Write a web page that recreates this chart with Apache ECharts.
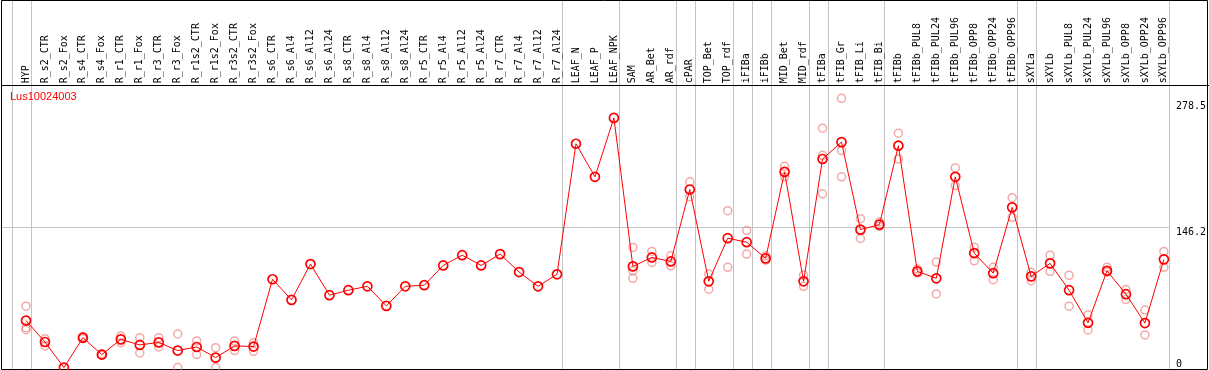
<!DOCTYPE html>
<html>
<head>
<meta charset="utf-8">
<script src="https://cdn.jsdelivr.net/npm/echarts@6/dist/echarts.min.js"></script>
<style>
html,body{margin:0;padding:0;background:#fff;}
#chart{width:1209px;height:370px;}
</style>
</head>
<body>
<div id="chart"></div>
<script>
const categories = ["HYP","R_s2_CTR","R_s2_Fox","R_s4_CTR","R_s4_Fox","R_r1_CTR","R_r1_Fox","R_r3_CTR","R_r3_Fox","R_r1s2_CTR","R_r1s2_Fox","R_r3s2_CTR","R_r3s2_Fox","R_s6_CTR","R_s6_Al4","R_s6_Al12","R_s6_Al24","R_s8_CTR","R_s8_Al4","R_s8_Al12","R_s8_Al24","R_r5_CTR","R_r5_Al4","R_r5_Al12","R_r5_Al24","R_r7_CTR","R_r7_Al4","R_r7_Al12","R_r7_Al24","LEAF_N","LEAF_P","LEAF_NPK","SAM","AR_Bet","AR_rdf","cPAR","TOP_Bet","TOP_rdf","iFIBa","iFIBb","MID_Bet","MID_rdf","tFIBa","tFIB_Gr","tFIB_Li","tFIB_Bi","tFIBb","tFIBb_PUL8","tFIBb_PUL24","tFIBb_PUL96","tFIBb_OPP8","tFIBb_OPP24","tFIBb_OPP96","sXYLa","sXYLb","sXYLb_PUL8","sXYLb_PUL24","sXYLb_PUL96","sXYLb_OPP8","sXYLb_OPP24","sXYLb_OPP96"];

const meanValues = [50.7,28.7,2.5,33.1,15.8,31.4,25.7,28.3,19.9,23.6,12.7,24.7,24.0,93.0,71.9,108.6,76.7,81.8,85.8,65.7,85.8,86.9,107.2,117.7,107.2,118.8,100.4,85.8,98.1,231.9,198.0,258.4,106.2,115.4,111.3,185.0,90.9,135.1,131.0,114.4,203.1,90.9,216.3,233.6,143.9,149.0,229.9,101.1,94.0,198.0,119.8,99.2,166.7,96.0,109.3,81.8,48.4,101.7,77.7,48.1,113.4];

const rep1 = [65.4,32.1,null,34.1,16.5,34.9,33.1,33.1,36.9,29.8,22.9,29.8,28.0,null,null,null,null,null,null,null,null,null,null,null,null,null,null,null,null,null,null,null,125.6,121.5,117.0,192.9,98.4,163.3,142.9,117.0,208.8,97.3,247.9,278.5,155.1,151.7,242.8,103.5,110.6,207.1,125.9,105.3,176.6,100.1,117.7,97.0,56.6,105.2,82.4,61.4,121.5];
const rep2 = [43.3,24.7,null,32.1,15.2,28.0,17.5,23.6,2.5,15.8,2.5,19.9,19.2,null,null,null,null,null,null,null,null,null,null,null,null,null,null,null,null,null,null,null,101.7,110.3,106.8,177.6,82.8,105.2,118.8,112.6,198.0,85.8,180.6,198.0,134.8,147.3,216.3,99.4,78.0,189.1,111.9,92.6,156.5,91.5,101.1,65.4,41.0,100.5,72.2,35.9,105.2];
const rep3 = [41.3,null,null,null,null,null,null,null,null,null,null,null,null,null,null,null,null,null,null,null,null,null,null,null,null,null,null,null,null,null,null,null,94.0,null,null,null,null,null,null,null,null,null,220.0,225.1,null,null,null,null,null,null,null,null,null,null,null,null,null,null,null,null,null];

const yTicks = [0, 146.2, 278.5];
const separatorsAfter = [-1, 0, 28, 31, 34, 35, 37, 38, 39, 41, 42, 45, 52, 53, 60];
const geneName = "Lus10024003";

const chart = echarts.init(document.getElementById('chart'), null, {renderer: 'canvas'});
const mono = "'DejaVu Sans Mono', 'Liberation Mono', monospace";
const pink = 'rgba(236,120,120,0.8)';

function repSeries(arr) {
  return {
    type: 'scatter',
    data: arr,
    symbol: 'circle',
    symbolSize: 8,
    z: 3,
    clip: false,
    silent: true,
    itemStyle: {color: 'rgba(0,0,0,0)', borderColor: pink, borderWidth: 1.5},
    emphasis: {disabled: true}
  };
}

const option = {
  animation: false,
  backgroundColor: '#fff',
  title: {
    text: geneName,
    left: 10, top: 91,
    padding: 0,
    textStyle: {color: '#ff0000', fontSize: 11, fontWeight: 'normal', fontFamily: "'Liberation Sans', Arial, sans-serif"}
  },
  grid: {left: 26, right: 43, top: 98.3, bottom: -1.5, containLabel: false},
  xAxis: {
    type: 'category',
    data: categories,
    position: 'top',
    boundaryGap: false,
    axisLine: {show: false},
    axisTick: {show: false},
    splitLine: {show: false},
    axisLabel: {
      interval: 0, rotate: 90, margin: 15,
      color: '#000', fontSize: 10, fontFamily: mono
    }
  },
  yAxis: {
    type: 'value',
    min: yTicks[0], max: yTicks[2], interval: yTicks[1],
    position: 'right',
    axisLine: {show: false},
    axisTick: {show: false},
    splitLine: {show: false},
    axisLabel: {
      margin: 12,
      showMinLabel: true, showMaxLabel: true,
      formatter: function (v) {
        if (v === yTicks[0]) return '{b|' + v + '}';
        if (v >= yTicks[2] - 0.01) return '{t|' + yTicks[2] + '}';
        return '{m|' + yTicks[1] + '}';
      },
      rich: {
        b: {color: '#000', fontSize: 10, fontFamily: mono, padding: [0, 0, 12, 0]},
        m: {color: '#000', fontSize: 10, fontFamily: mono, padding: [11, 0, 0, 0]},
        t: {color: '#000', fontSize: 10, fontFamily: mono, padding: [16, 0, 0, 0]}
      }
    }
  },
  series: [
    repSeries(rep1),
    repSeries(rep2),
    repSeries(rep3),
    {
      type: 'line',
      data: meanValues,
      z: 5,
      clip: false,
      symbol: 'circle',
      symbolSize: 9,
      showAllSymbol: true,
      lineStyle: {color: '#ff0000', width: 1},
      itemStyle: {color: 'rgba(0,0,0,0)', borderColor: '#ff0000', borderWidth: 1.7},
      emphasis: {disabled: true}
    }
  ]
};

chart.setOption(option);

// decorations positioned through the library's scales
const x0 = chart.convertToPixel({xAxisIndex: 0}, 0);
const x1 = chart.convertToPixel({xAxisIndex: 0}, 1);
const step = x1 - x0;
const yGrid = chart.convertToPixel({yAxisIndex: 0}, yTicks[1]);
const lastSepX = Math.round(x0 + separatorsAfter[separatorsAfter.length - 1] * step + 5) + 0.5;

const elements = [];
separatorsAfter.forEach(function (k) {
  const x = Math.round(x0 + k * step + 5) + 0.5;
  elements.push({type: 'line', z: 0, silent: true,
    shape: {x1: x, y1: 0, x2: x, y2: 370},
    style: {stroke: '#c4c4c4', lineWidth: 1}});
});
elements.push({type: 'line', z: 0, silent: true,
  shape: {x1: 1, y1: Math.round(yGrid) + 0.5, x2: lastSepX, y2: Math.round(yGrid) + 0.5},
  style: {stroke: '#c4c4c4', lineWidth: 1}});
// frame
elements.push({type: 'rect', z: 1, silent: true,
  shape: {x: 1.5, y: 0.5, width: 1206, height: 369},
  style: {fill: null, stroke: '#000', lineWidth: 1}});
elements.push({type: 'line', z: 1, silent: true,
  shape: {x1: 1, y1: 85.5, x2: 1209, y2: 85.5},
  style: {stroke: '#000', lineWidth: 1}});

chart.setOption({graphic: {elements: elements}});
</script>
</body>
</html>
